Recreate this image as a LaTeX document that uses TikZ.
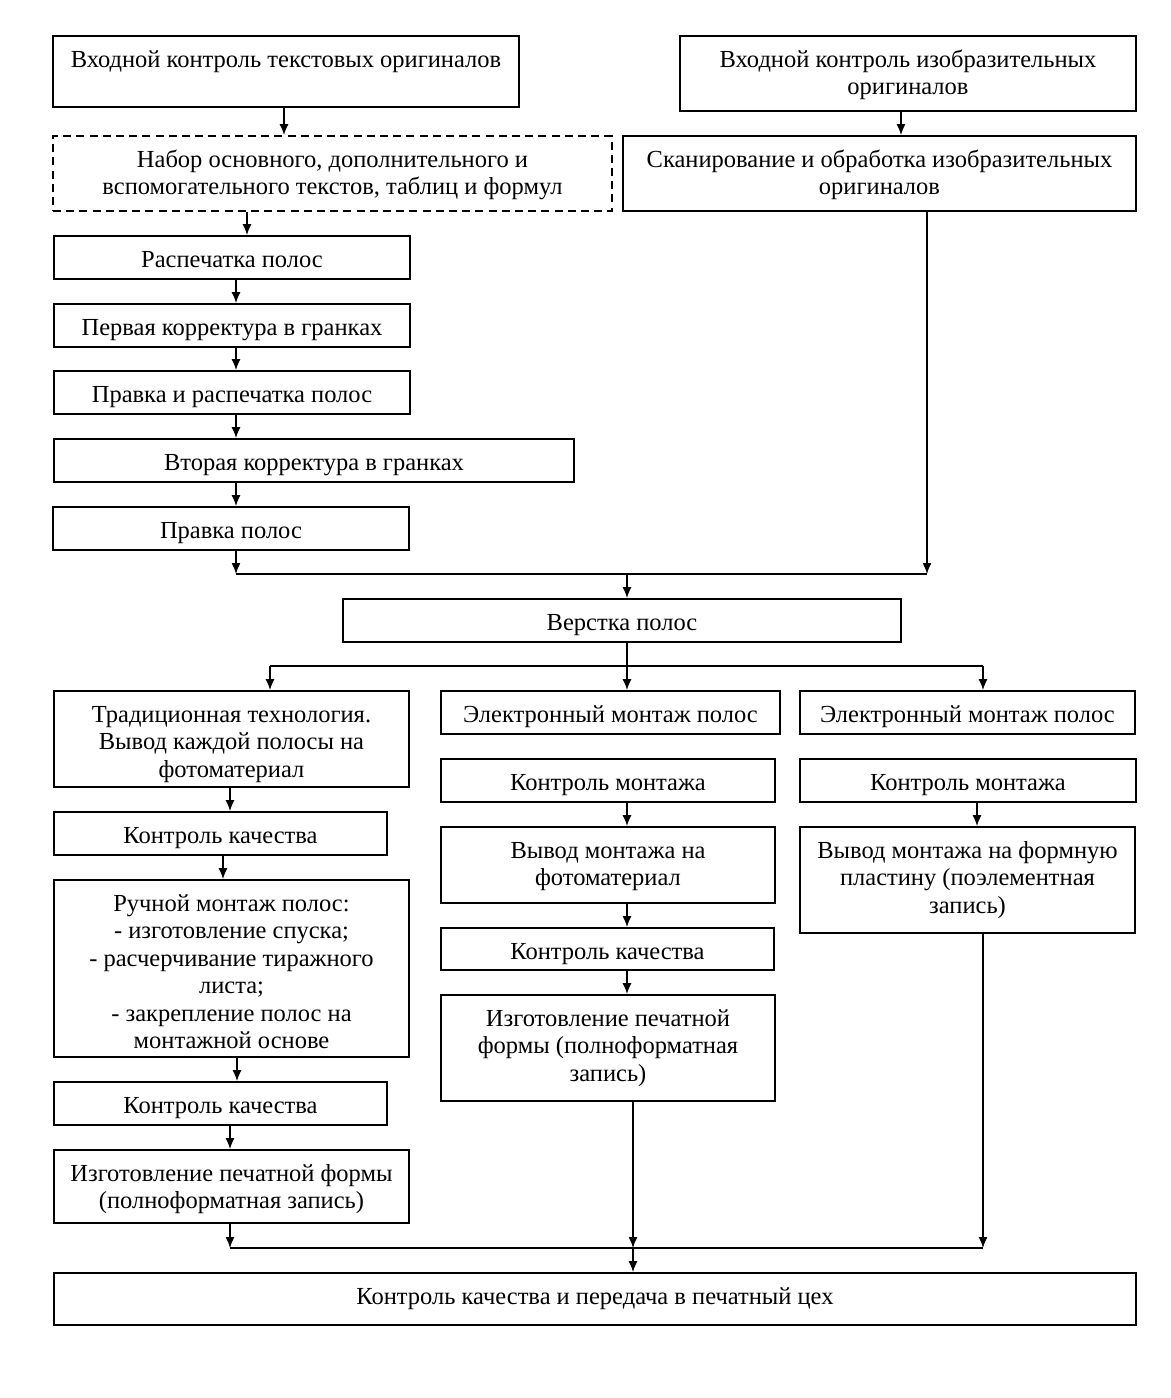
\documentclass[tikz,border=0pt]{standalone}
\usepackage{fontspec}
\setmainfont{Liberation Serif}
\usetikzlibrary{arrows.meta}
\newcommand\boxtext[3]{\parbox[c][#2][t]{#1}{\centering\vspace*{6.1pt}\strut #3}}
\begin{document}
\begin{tikzpicture}[x=0.5pt,y=-0.5pt,
  box/.style={draw, line width=0.9pt, rectangle, inner sep=0pt,
    font=\fontsize{12.25}{13.75}\selectfont},
  dbox/.style={box, dash pattern=on 4pt off 2.6pt},
  arr/.style={line width=0.7pt, -{Latex[length=5.5pt,width=4.5pt]}},
  ln/.style={line width=0.7pt}]
\useasboundingbox (0,0) rectangle (1171,1398);

% left upper column
\node[box] (A1) at (286,71.5) {\boxtext{233pt}{35.5pt}{Входной контроль текстовых оригиналов}};
\node[box] (B1) at (908,73.5) {\boxtext{228pt}{37.5pt}{Входной контроль изобразительных\\ оригиналов}};
\node[dbox] (A2) at (332.5,173.5) {\boxtext{279.5pt}{37.5pt}{Набор основного, дополнительного и\\ вспомогательного текстов, таблиц и формул}};
\node[box] (B2) at (879.5,173.5) {\boxtext{256.5pt}{37.5pt}{Сканирование и обработка изобразительных\\ оригиналов}};
\node[box] (A3) at (232,257.5) {\boxtext{178pt}{21.5pt}{Распечатка полос}};
\node[box] (A4) at (232,325.5) {\boxtext{178pt}{21.5pt}{Первая корректура в гранках}};
\node[box] (A5) at (232,392.5) {\boxtext{178pt}{21.5pt}{Правка и распечатка полос}};
\node[box] (A6) at (314,460.5) {\boxtext{260pt}{21.5pt}{Вторая корректура в гранках}};
\node[box] (A7) at (231,528.5) {\boxtext{178pt}{21.5pt}{Правка полос}};
\node[box] (C) at (622,620.5) {\boxtext{279pt}{21.5pt}{Верстка полос}};

% lower left column
\node[box] (L1) at (231.5,739) {\boxtext{177.5pt}{48pt}{Традиционная технология.\\ Вывод каждой полосы на\\ фотоматериал}};
\node[box] (L2) at (220.5,833.5) {\boxtext{166.5pt}{21.5pt}{Контроль качества}};
\node[box] (L3) at (231.5,968.5) {\boxtext{177.5pt}{88.5pt}{Ручной монтаж полос:\\ - изготовление спуска;\\ - расчерчивание тиражного\\ листа;\\ - закрепление полос на\\ монтажной основе}};
\node[box] (L4) at (220.5,1103.5) {\boxtext{166.5pt}{21.5pt}{Контроль качества}};
\node[box] (L5) at (231.5,1186.5) {\boxtext{177.5pt}{36.5pt}{Изготовление печатной формы\\ (полноформатная запись)}};

% middle column
\node[box] (M1) at (610.5,712.5) {\boxtext{169.5pt}{21.5pt}{Электронный монтаж полос}};
\node[box] (M2) at (608,780.5) {\boxtext{167pt}{21.5pt}{Контроль монтажа}};
\node[box] (M3) at (608,865) {\boxtext{167pt}{38pt}{Вывод монтажа на\\ фотоматериал}};
\node[box] (M4) at (607.5,949) {\boxtext{166.5pt}{21pt}{Контроль качества}};
\node[box] (M5) at (608,1048) {\boxtext{167pt}{53pt}{Изготовление печатной\\ формы (полноформатная\\ запись)}};

% right column
\node[box] (R1) at (967.5,712.5) {\boxtext{167.5pt}{21.5pt}{Электронный монтаж полос}};
\node[box] (R2) at (968,780.5) {\boxtext{168pt}{21.5pt}{Контроль монтажа}};
\node[box] (R3) at (967.5,880) {\boxtext{167.5pt}{53pt}{Вывод монтажа на формную\\ пластину (поэлементная\\ запись)}};

\node[box] (F) at (595,1299) {\boxtext{541pt}{26pt}{Контроль качества и передача в печатный цех}};

% column coordinates
\coordinate (x284) at (284,0);
\coordinate (x247) at (247,0);
\coordinate (x236) at (236,0);
\coordinate (x901) at (901,0);
\coordinate (x927) at (927,0);
\coordinate (x230) at (230,0);
\coordinate (x223) at (223,0);
\coordinate (x237) at (237,0);
\coordinate (x627) at (627,0);
\coordinate (x633) at (633,0);
\coordinate (x977) at (977,0);
\coordinate (x983) at (983,0);
\coordinate (x270) at (270,0);

% merge/split points
\coordinate (m1l) at (236,574);
\coordinate (m1r) at (927,574);
\coordinate (m1c) at (627,574);
\coordinate (s1l) at (270,666);
\coordinate (s1r) at (983,666);
\coordinate (s1c) at (627,666);
\coordinate (m2l) at (230,1248);
\coordinate (m2c) at (633,1248);
\coordinate (m2r) at (983,1248);

% upper arrows
\draw[arr] (A1.south -| x284) -- (A2.north -| x284);
\draw[arr] (B1.south -| x901) -- (B2.north -| x901);
\draw[arr] (A2.south -| x247) -- (A3.north -| x247);
\draw[arr] (A3.south -| x236) -- (A4.north -| x236);
\draw[arr] (A4.south -| x236) -- (A5.north -| x236);
\draw[arr] (A5.south -| x236) -- (A6.north -| x236);
\draw[arr] (A6.south -| x236) -- (A7.north -| x236);
\draw[arr] (A7.south -| x236) -- (m1l);
\draw[arr] (B2.south -| x927) -- (m1r);
\draw[ln] (m1l) -- (m1r);
\draw[arr] (m1c) -- (C.north -| x627);

% split
\draw[ln] (C.south -| x627) -- (s1c);
\draw[ln] (s1l) -- (s1r);
\draw[arr] (s1l) -- (L1.north -| x270);
\draw[arr] (s1c) -- (M1.north -| x627);
\draw[arr] (s1r) -- (R1.north -| x983);

% left lower
\draw[arr] (L1.south -| x230) -- (L2.north -| x230);
\draw[arr] (L2.south -| x223) -- (L3.north -| x223);
\draw[arr] (L3.south -| x237) -- (L4.north -| x237);
\draw[arr] (L4.south -| x230) -- (L5.north -| x230);
\draw[arr] (L5.south -| x230) -- (m2l);

% middle
\draw[arr] (M2.south -| x627) -- (M3.north -| x627);
\draw[arr] (M3.south -| x627) -- (M4.north -| x627);
\draw[arr] (M4.south -| x627) -- (M5.north -| x627);
\draw[arr] (M5.south -| x633) -- (m2c);

% right
\draw[arr] (R2.south -| x977) -- (R3.north -| x977);
\draw[arr] (R3.south -| x983) -- (m2r);

\draw[ln] (m2l) -- (m2r);
\draw[arr] (m2c) -- (F.north -| x633);
\end{tikzpicture}
\end{document}
